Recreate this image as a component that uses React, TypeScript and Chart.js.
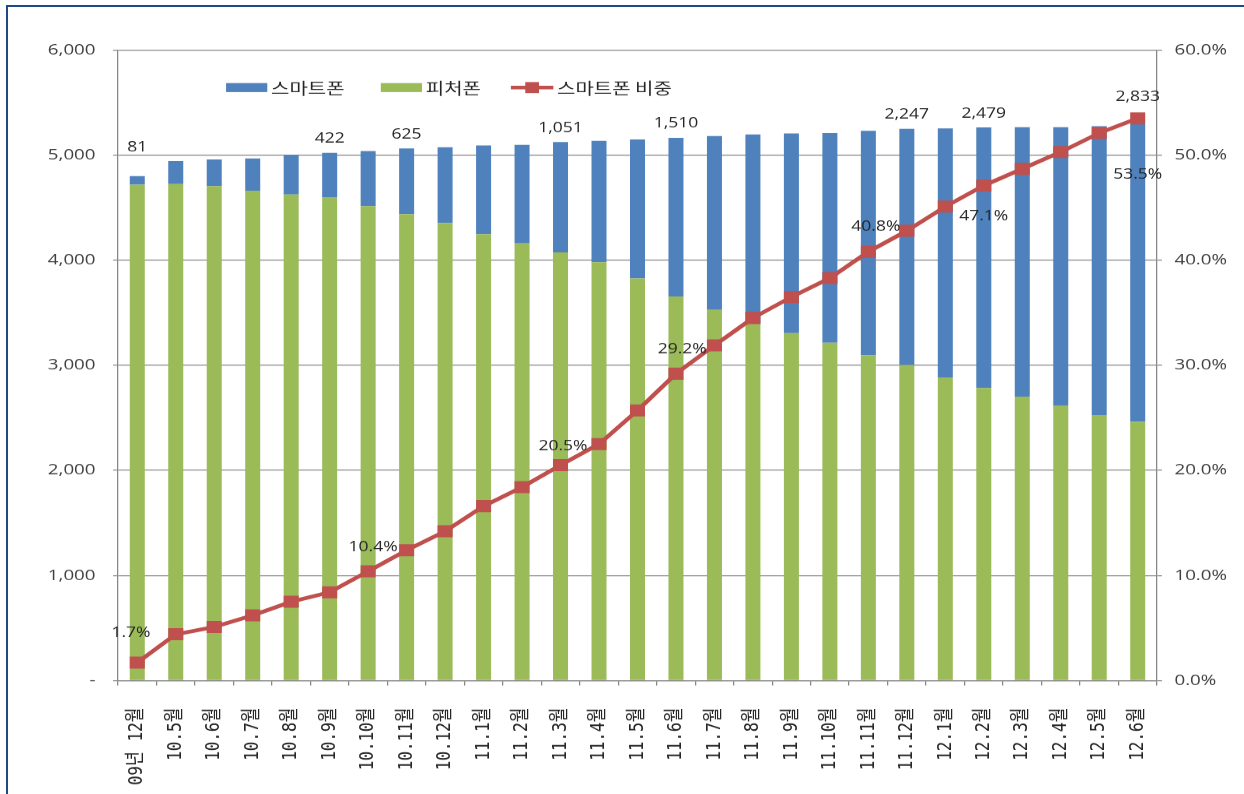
import React, { useEffect, useRef } from 'react';
import { Chart, registerables } from 'chart.js';

Chart.register(...registerables);

// ---------------- data ----------------
const categories = [
  '09년 12월', '10.5월', '10.6월', '10.7월', '10.8월', '10.9월', '10.10월', '10.11월', '10.12월',
  '11.1월', '11.2월', '11.3월', '11.4월', '11.5월', '11.6월', '11.7월', '11.8월', '11.9월',
  '11.10월', '11.11월', '11.12월', '12.1월', '12.2월', '12.3월', '12.4월', '12.5월', '12.6월',
];

const smartphone = [
  81, 218, 253, 308, 375, 422, 524, 625, 721, 845, 938, 1051, 1156, 1323, 1510, 1653, 1793, 1900,
  1995, 2134, 2247, 2370, 2479, 2564, 2649, 2749, 2833,
];

const featurePhone = [
  4719, 4725, 4706, 4661, 4625, 4600, 4514, 4438, 4355, 4247, 4160, 4074, 3980, 3826, 3655, 3528,
  3404, 3306, 3215, 3097, 3003, 2884, 2784, 2701, 2617, 2527, 2462,
];

const smartShare = [
  1.7, 4.4, 5.1, 6.2, 7.5, 8.4, 10.4, 12.4, 14.2, 16.6, 18.4, 20.5, 22.5, 25.7, 29.2, 31.9, 34.5,
  36.5, 38.3, 40.8, 42.8, 45.1, 47.1, 48.7, 50.3, 52.1, 53.5,
];

const leftTickLabels = ['-', '1,000', '2,000', '3,000', '4,000', '5,000', '6,000'];
const rightTickLabels = ['0.0%', '10.0%', '20.0%', '30.0%', '40.0%', '50.0%', '60.0%'];

const seriesNames = ['스마트폰', '피처폰', '스마트폰 비중'];

// which points carry a value label
const barLabelIdx = [0, 5, 7, 11, 14, 20, 22, 26];
const shareLabelIdx = [0, 6, 11, 14, 19, 22, 26];

// ---------------- styling / placement (internal canvas px) ----------------
const INTERNAL_W = 996;
const INTERNAL_H = 794;
const DISPLAY_W = 1244;
const DPR = 1.249;

const BLUE = '#4F81BD';
const GREEN = '#9BBB59';
const RED = '#C0504D';
const AXIS = '#868686';
const TEXT = '#262626';

const barLabelDy: Record<number, number> = { 0: -29, 26: -27 };
const shareLabelShift: Record<number, [number, number]> = {
  0: [-5, -30],
  6: [4, -24],
  11: [2, -19],
  14: [5, -24],
  19: [6, -25],
  22: [0, 31],
  26: [0, 56],
};

const fmtInt = (v: number) => v.toLocaleString('en-US');

const labelPlugin = {
  id: 'valueLabels',
  afterDatasetsDraw(chart: any) {
    const ctx = chart.ctx;
    ctx.save();
    ctx.font = '14px "Open Sans", "Noto Sans", sans-serif';
    ctx.fillStyle = TEXT;
    ctx.textAlign = 'center';
    ctx.textBaseline = 'middle';
    const barMeta = chart.getDatasetMeta(1);
    barLabelIdx.forEach((i) => {
      const el = barMeta.data[i];
      const dy = barLabelDy[i] ?? -14;
      ctx.fillText(fmtInt(smartphone[i]), el.x, el.y + dy);
    });
    const lineMeta = chart.getDatasetMeta(2);
    shareLabelIdx.forEach((i) => {
      const el = lineMeta.data[i];
      const [dx, dy] = shareLabelShift[i] ?? [0, -24];
      ctx.fillText(smartShare[i].toFixed(1) + '%', el.x + dx, el.y + dy);
    });
    ctx.restore();
  },
  afterDraw(chart: any) {
    // legend drawn inside the plot area, as in the reference
    const ctx = chart.ctx;
    const ds = chart.data.datasets;
    const order = [1, 0, 2];
    const y = 87.5;
    let x = 181;
    ctx.save();
    ctx.font = '16px "Noto Sans CJK KR", sans-serif';
    ctx.textBaseline = 'middle';
    ctx.textAlign = 'left';
    order.forEach((di, k) => {
      const d = ds[di];
      if (d.type === 'line') {
        ctx.strokeStyle = RED;
        ctx.lineWidth = 3.5;
        ctx.beginPath();
        ctx.moveTo(x, y);
        ctx.lineTo(x + 34, y);
        ctx.stroke();
        ctx.fillStyle = RED;
        ctx.fillRect(x + 17 - 5.5, y - 5.5, 11, 11);
        x += 37;
      } else {
        ctx.fillStyle = d.backgroundColor;
        ctx.fillRect(x, y - 4.5, 33, 9);
        x += 36;
      }
      ctx.fillStyle = TEXT;
      ctx.fillText(d.label, x, y + 1);
      x += ctx.measureText(d.label).width + (k === 0 ? 29 : 24);
    });
    ctx.restore();
  },
};

export default function App() {
  const canvasRef = useRef<HTMLCanvasElement | null>(null);

  useEffect(() => {
    const canvas = canvasRef.current;
    if (!canvas) return;
    const tickFont = { family: '"Open Sans", "Noto Sans", sans-serif', size: 15 };
    const chart = new Chart(canvas, {
      type: 'bar',
      data: {
        labels: categories,
        datasets: [
          {
            type: 'bar',
            label: seriesNames[1],
            data: featurePhone,
            backgroundColor: GREEN,
            yAxisID: 'y',
            stack: 's',
            order: 2,
            barPercentage: 0.39,
            categoryPercentage: 1,
          },
          {
            type: 'bar',
            label: seriesNames[0],
            data: smartphone,
            backgroundColor: BLUE,
            yAxisID: 'y',
            stack: 's',
            order: 2,
            barPercentage: 0.39,
            categoryPercentage: 1,
          },
          {
            type: 'line',
            label: seriesNames[2],
            data: smartShare,
            yAxisID: 'y1',
            borderColor: RED,
            backgroundColor: RED,
            borderWidth: 3.8,
            pointStyle: 'rect',
            pointRadius: 8.5,
            pointBorderWidth: 0,
            pointBackgroundColor: RED,
            tension: 0,
            order: 1,
          },
        ] as any,
      },
      options: {
        animation: false,
        responsive: false,
        devicePixelRatio: DPR,
        layout: { padding: { left: 0, right: 0, top: 50, bottom: 0 } },
        plugins: {
          legend: { display: false },
          tooltip: { enabled: false },
        },
        scales: {
          x: {
            stacked: true,
            offset: true,
            grid: {
              display: true,
              drawOnChartArea: false,
              drawTicks: true,
              tickLength: 5,
              color: AXIS,
              offset: true,
            },
            border: { display: true, color: AXIS, width: 1 },
            ticks: {
              autoSkip: false,
              minRotation: 90,
              maxRotation: 90,
              padding: 22,
              color: TEXT,
              font: { family: '"DejaVu Sans Mono", "Noto Sans CJK KR", monospace', size: 16 },
            },
            afterFit: (s: any) => {
              s.height = 114;
            },
          },
          y: {
            stacked: true,
            position: 'left',
            min: 0,
            max: 6000,
            ticks: {
              stepSize: 1000,
              padding: 14,
              color: '#404040',
              font: tickFont,
              callback: (_v: any, i: number) => leftTickLabels[i],
            },
            grid: { color: AXIS, tickLength: 4, drawTicks: true, lineWidth: 1 },
            border: { display: true, color: AXIS },
            afterFit: (s: any) => {
              s.width = 94.5;
            },
          },
          y1: {
            position: 'right',
            min: 0,
            max: 60,
            ticks: {
              stepSize: 10,
              padding: 10,
              color: '#404040',
              font: tickFont,
              callback: (_v: any, i: number) => rightTickLabels[i],
            },
            grid: { drawOnChartArea: false, tickLength: 4, drawTicks: true, color: AXIS },
            border: { display: true, color: AXIS },
            afterFit: (s: any) => {
              s.width = INTERNAL_W - 926.3;
            },
          },
        },
      } as any,
      plugins: [labelPlugin],
    });
    return () => chart.destroy();
  }, []);

  return (
    <div
      style={{
        position: 'absolute',
        left: 0,
        top: 0,
        width: DISPLAY_W,
        height: 794,
        background: '#ffffff',
        overflow: 'hidden',
      }}
    >
      <div
        style={{
          position: 'absolute',
          left: 6,
          top: 5,
          width: 1400,
          height: 900,
          borderLeft: '2px solid #1F4A7E',
          borderTop: '2px solid #1F4A7E',
        }}
      />
      <canvas
        ref={canvasRef}
        width={INTERNAL_W}
        height={INTERNAL_H}
        style={{
          position: 'absolute',
          left: 0,
          top: 0,
          width: DISPLAY_W + 'px',
          height: INTERNAL_H + 'px',
          display: 'block',
        }}
      />
    </div>
  );
}
